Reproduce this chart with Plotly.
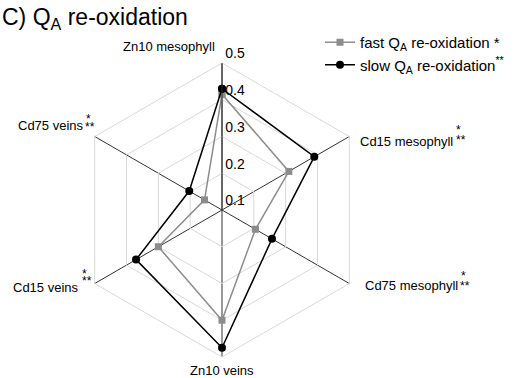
import plotly.graph_objects as go

categories = ["Zn10 mesophyll", "Cd15 mesophyll", "Cd75 mesophyll",
              "Zn10 veins", "Cd15 veins", "Cd75 veins"]
fast_vals = [0.415, 0.31, 0.205, 0.40, 0.30, 0.155]
slow_vals = [0.43, 0.39, 0.257, 0.475, 0.37, 0.203]
tick_vals = [0.1, 0.2, 0.3, 0.4, 0.5]
tick_text = ["0.1", "0.2", "0.3", "0.4", "0.5"]
fast_name = "fast Q<sub>A</sub> re-oxidation *"
slow_name = "slow Q<sub>A</sub> re-oxidation<sup>**</sup>"

W, H = 525, 378
FONT = "Liberation Sans, Arial, sans-serif"


def px(x):
    return x / W


def py(y):
    return 1 - y / H


fig = go.Figure()
fig.add_trace(go.Scatterpolar(
    r=fast_vals + fast_vals[:1], theta=categories + categories[:1],
    mode="lines+markers", name=fast_name,
    line=dict(color="#8c8c8c", width=1.5),
    marker=dict(symbol="square", size=7, color="#8c8c8c"),
))
fig.add_trace(go.Scatterpolar(
    r=slow_vals + slow_vals[:1], theta=categories + categories[:1],
    mode="lines+markers", name=slow_name,
    line=dict(color="#000000", width=1.5),
    marker=dict(symbol="circle", size=8, color="#000000"),
))

cx, cy, R = 222, 210, 147
fig.update_layout(
    width=W, height=H,
    margin=dict(l=0, r=0, t=0, b=0),
    paper_bgcolor="white",
    font=dict(family=FONT, color="#000000"),
    polar=dict(
        bgcolor="white",
        gridshape="linear",
        domain=dict(x=[px(cx - R), px(cx + R)],
                    y=[py(cy + R), py(cy - R)]),
        radialaxis=dict(
            range=[0.1, 0.5], tickvals=tick_vals,
            # trailing blank line lifts each label above its ring, as in the original
            ticktext=[t + "<br> " for t in tick_text],
            angle=90, tickangle=90, showline=True, linecolor="#333333",
            linewidth=1, gridcolor="#d9d9d9", gridwidth=1,
            ticks="", tickfont=dict(size=14, color="#000000"),
        ),
        angularaxis=dict(
            rotation=90, direction="clockwise",
            showticklabels=False, ticks="",
            gridcolor="#333333", gridwidth=1,
            showline=True, linecolor="#d9d9d9", linewidth=1,
        ),
    ),
    legend=dict(
        x=px(320), y=py(26), xanchor="left", yanchor="top",
        font=dict(size=15, color="#000000"), bgcolor="rgba(0,0,0,0)",
    ),
)

# title
fig.add_annotation(x=px(0), y=py(19), xref="paper", yref="paper",
                   xanchor="left", yanchor="middle", showarrow=False,
                   text="C) Q<sub>A</sub> re-oxidation",
                   font=dict(size=23, family=FONT, color="#000000"))

# category labels: (x, y, xanchor) in page pixels
label_pos = [
    (217, 47, "right"),
    (358, 142, "left"),
    (363, 285, "left"),
    (222, 370, "center"),
    (81, 287, "right"),
    (86, 126, "right"),
]
for name, (lx, ly, xa) in zip(categories, label_pos):
    fig.add_annotation(x=px(lx), y=py(ly), xref="paper", yref="paper",
                       xanchor=xa, yanchor="middle", showarrow=False,
                       text=name, font=dict(size=13, family=FONT, color="#000000"))

# significance asterisks: (single x, single y, double x, double y) glyph centres
star_pos = [
    None,
    (458, 128, 461, 138),
    (463, 274, 465, 284),
    None,
    (84, 272, 87, 279),
    (88, 117, 90, 125),
]
for sp in star_pos:
    if sp is None:
        continue
    x1, y1, x2, y2 = sp
    fig.add_annotation(x=px(x1), y=py(y1 + 2), xref="paper", yref="paper",
                       xanchor="center", yanchor="middle", showarrow=False,
                       text="*", font=dict(size=12, family=FONT, color="#000000"))
    fig.add_annotation(x=px(x2), y=py(y2 + 2), xref="paper", yref="paper",
                       xanchor="center", yanchor="middle", showarrow=False,
                       text="**", font=dict(size=12, family=FONT, color="#000000"))

fig.write_html("out.html", config={"displayModeBar": False},
               post_script="document.body.style.margin='0px';")
